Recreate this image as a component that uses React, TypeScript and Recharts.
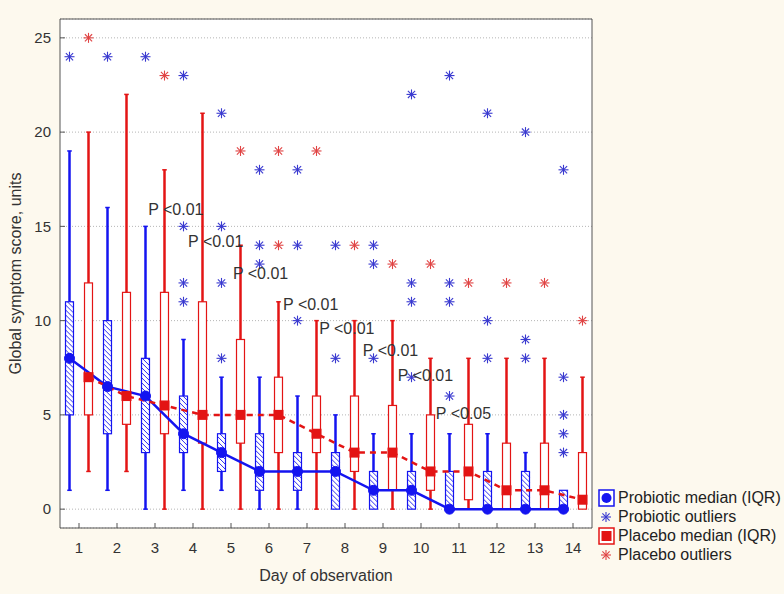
import React from "react";
import {
  ComposedChart,
  XAxis,
  YAxis,
  CartesianGrid,
  Line,
  Scatter,
  ReferenceArea,
  ReferenceLine,
  Legend,
} from "recharts";

const days = [1, 2, 3, 4, 5, 6, 7, 8, 9, 10, 11, 12, 13, 14];
const yTicks = [0, 5, 10, 15, 20, 25];

// probiotic group: whiskers, IQR box, median
const probMin = [1, 1, 0, 1, 1, 0, 0, 0, 0, 0, 0, 0, 0, 0];
const probQ1 = [5, 4, 3, 3, 2, 1, 1, 0, 0, 0, 0, 0, 0, 0];
const probMed = [8, 6.5, 6, 4, 3, 2, 2, 2, 1, 1, 0, 0, 0, 0];
const probQ3 = [11, 10, 8, 6, 4, 4, 3, 3, 2, 2, 2, 2, 2, 1];
const probMax = [19, 16, 15, 9, 7, 7, 6, 5, 4, 4, 4, 4, 3, 1];

// placebo group
const plMin = [2, 2, 0, 0, 0, 0, 0, 0, 0, 0, 0, 0, 0, 0];
const plQ1 = [5, 4.5, 4, 3.5, 3.5, 3, 3, 2, 1, 1, 0.5, 0, 0, 0];
const plMed = [7, 6, 5.5, 5, 5, 5, 4, 3, 3, 2, 2, 1, 1, 0.5];
const plQ3 = [12, 11.5, 11.5, 11, 9, 7, 6, 6, 5.5, 5, 4.5, 3.5, 3.5, 3];
const plMax = [20, 22, 18, 21, 14, 11, 10, 10, 10, 8, 8, 8, 8, 7];

// outliers as [day, value]
const probOutliers = [
  [1, 24], [2, 24], [3, 24],
  [4, 23], [4, 15], [4, 12], [4, 11],
  [5, 21], [5, 15], [5, 12], [5, 8],
  [6, 18], [6, 14], [6, 13],
  [7, 18], [7, 14], [7, 10],
  [8, 14], [8, 8],
  [9, 14], [9, 13], [9, 8],
  [10, 22], [10, 12], [10, 11], [10, 7],
  [11, 23], [11, 12], [11, 11], [11, 6],
  [12, 21], [12, 10], [12, 8],
  [13, 20], [13, 9], [13, 8],
  [14, 18], [14, 7], [14, 5], [14, 4], [14, 3],
];
const plOutliers = [
  [1, 25], [3, 23], [5, 19], [6, 19], [6, 14], [7, 19],
  [8, 14], [9, 13], [10, 13], [11, 12], [12, 12], [13, 12], [14, 10],
];

// p-value annotations
const pText = ["P <0.01", "P <0.01", "P <0.01", "P <0.01", "P <0.01", "P <0.01", "P <0.01", "P <0.05"];
const pX = [2.82, 3.87, 5.05, 6.37, 7.32, 8.47, 9.39, 10.39];
const pY = [15.9, 14.2, 12.5, 10.85, 9.6, 8.4, 7.1, 5.1];

const BLUE = "#1414f0";
const RED = "#e31414";
const BLUE_OUT = "#3a3ad0";
const RED_OUT = "#e04444";
const FONT = "'Liberation Sans', Arial, sans-serif";

const OFF = 0.25; // group offset from the day tick
const HALF = 0.105; // half box width
const CAP = 0.06;

const probLine = days.map((d, i) => ({ x: d - OFF, y: probMed[i] }));
const plLine = days.map((d, i) => ({ x: d + OFF, y: plMed[i] }));
const probOut = probOutliers.map(([d, v]) => ({ x: d - OFF, y: v }));
const plOut = plOutliers.map(([d, v]) => ({ x: d + OFF, y: v }));
const pLabels = pText.map((t, i) => ({ x: pX[i], y: pY[i], t }));

function asterisk(color: string) {
  return (props: any) => {
    const { cx, cy } = props;
    const r = 5;
    const d = r * 0.72;
    return (
      <g stroke={color} strokeWidth={1.1}>
        <line x1={cx - r} y1={cy} x2={cx + r} y2={cy} />
        <line x1={cx} y1={cy - r} x2={cx} y2={cy + r} />
        <line x1={cx - d} y1={cy - d} x2={cx + d} y2={cy + d} />
        <line x1={cx - d} y1={cy + d} x2={cx + d} y2={cy - d} />
      </g>
    );
  };
}

const squareDot = (props: any) => {
  const { cx, cy } = props;
  return <rect x={cx - 5} y={cy - 5} width={10} height={10} fill={RED} />;
};

const pLabel = (props: any) => (
  <text
    x={props.cx}
    y={props.cy}
    dominantBaseline="central"
    fontSize={16}
    fill="#333"
    fontFamily={FONT}
  >
    {props.payload.t}
  </text>
);

// hatched IQR box: white rect with "/" lines clipped to the rect
const hatchedBox = (props: any) => {
  const { x, y, width: w, height: h } = props;
  const step = 5;
  const lines: React.ReactNode[] = [];
  for (let k = step; k < w + h; k += step) {
    const u0 = Math.max(0, k - h);
    const u1 = Math.min(w, k);
    if (u1 <= u0) continue;
    lines.push(
      <line
        key={k}
        x1={x + u0}
        y1={y + h - (k - u0)}
        x2={x + u1}
        y2={y + h - (k - u1)}
      />
    );
  }
  return (
    <g>
      <rect x={x} y={y} width={w} height={h} fill="#fff" />
      <g stroke={BLUE} strokeWidth={0.9}>{lines}</g>
      <rect x={x} y={y} width={w} height={h} fill="none" stroke={BLUE} strokeWidth={1.2} />
    </g>
  );
};

const plainBox = (props: any) => {
  const { x, y, width: w, height: h } = props;
  return <rect x={x} y={y} width={w} height={h} fill="#fff" stroke={RED} strokeWidth={1.2} />;
};

function whiskers(
  key: string,
  off: number,
  lo: number[],
  q1: number[],
  q3: number[],
  hi: number[],
  color: string
) {
  const out: React.ReactNode[] = [];
  days.forEach((d, i) => {
    const x = d + off;
    if (q1[i] > lo[i]) {
      out.push(
        <ReferenceLine key={`${key}lo${i}`} segment={[{ x, y: lo[i] }, { x, y: q1[i] }]} stroke={color} strokeWidth={2.5} />
      );
      out.push(
        <ReferenceLine key={`${key}lc${i}`} segment={[{ x: x - CAP, y: lo[i] }, { x: x + CAP, y: lo[i] }]} stroke={color} strokeWidth={1.5} />
      );
    }
    if (hi[i] > q3[i]) {
      out.push(
        <ReferenceLine key={`${key}hi${i}`} segment={[{ x, y: q3[i] }, { x, y: hi[i] }]} stroke={color} strokeWidth={2.5} />
      );
      out.push(
        <ReferenceLine key={`${key}hc${i}`} segment={[{ x: x - CAP, y: hi[i] }, { x: x + CAP, y: hi[i] }]} stroke={color} strokeWidth={1.5} />
      );
    }
  });
  return out;
}

function boxes(key: string, off: number, q1: number[], q3: number[], shape: any) {
  return days.map((d, i) => (
    <ReferenceArea
      key={`${key}${i}`}
      x1={d + off - HALF}
      x2={d + off + HALF}
      y1={q1[i]}
      y2={q3[i]}
      shape={shape}
    />
  ));
}

const legendItems = [
  { label: "Probiotic median (IQR)", kind: "probBox" },
  { label: "Probiotic outliers", kind: "probOut" },
  { label: "Placebo median (IQR)", kind: "plBox" },
  { label: "Placebo outliers", kind: "plOut" },
];

function LegendIcon({ kind }: { kind: string }) {
  const star = (c: string) => asterisk(c)({ cx: 8, cy: 9 });
  return (
    <svg width={17} height={18} style={{ marginRight: 3 }}>
      {kind === "probBox" && (
        <g>
          <rect x={1} y={1} width={15} height={16} fill="#fff" stroke={BLUE} strokeWidth={1.5} />
          <circle cx={8.5} cy={9} r={5} fill={BLUE} />
        </g>
      )}
      {kind === "plBox" && (
        <g>
          <rect x={1} y={1} width={15} height={16} fill="#fff" stroke={RED} strokeWidth={1.5} />
          <rect x={3.5} y={4} width={10} height={10} fill={RED} />
        </g>
      )}
      {kind === "probOut" && star(BLUE_OUT)}
      {kind === "plOut" && star(RED_OUT)}
    </svg>
  );
}

const renderLegend = () => (
  <div style={{ fontFamily: FONT, fontSize: 16, color: "#222" }}>
    {legendItems.map((it) => (
      <div key={it.label} style={{ display: "flex", alignItems: "center", height: 19, whiteSpace: "nowrap" }}>
        <LegendIcon kind={it.kind} />
        <span>{it.label}</span>
      </div>
    ))}
  </div>
);

export default function App() {
  return (
    <div
      style={{
        position: "absolute",
        left: 0,
        top: 0,
        width: 784,
        height: 594,
        background: "#fdf9ee",
        fontFamily: FONT,
      }}
    >
      <ComposedChart
        width={784}
        height={594}
        margin={{ top: 18, right: 191, bottom: 0, left: 0 }}
        style={{ fontFamily: FONT }}
      >
        <CartesianGrid vertical={false} stroke="#b5b5b5" strokeDasharray="1 2" fill="#fff" />
        <XAxis
          type="number"
          dataKey="x"
          domain={[0.5, 14.5]}
          ticks={days}
          allowDataOverflow
          height={66}
          tickSize={-5}
          tickMargin={19}
          tick={{ fontSize: 15, fill: "#333" }}
          axisLine={{ stroke: "#555" }}
          tickLine={{ stroke: "#555" }}
          label={{
            value: "Day of observation",
            position: "insideBottom",
            offset: 13,
            style: { fontSize: 16, fill: "#333" },
          }}
        />
        <XAxis
          xAxisId="top"
          orientation="top"
          type="number"
          domain={[0.5, 14.5]}
          ticks={days}
          allowDataOverflow
          height={1}
          tickSize={-5}
          tick={false}
          axisLine={{ stroke: "#555" }}
          tickLine={{ stroke: "#555" }}
        />
        <YAxis
          type="number"
          domain={[-1, 26]}
          ticks={yTicks}
          allowDataOverflow
          width={60}
          tickSize={-5}
          tickMargin={14}
          tick={{ fontSize: 15, fill: "#333" }}
          axisLine={{ stroke: "#555" }}
          tickLine={{ stroke: "#555" }}
          label={{
            value: "Global symptom score, units",
            angle: -90,
            position: "insideLeft",
            offset: 15,
            style: { fontSize: 16, fill: "#333", textAnchor: "middle" },
          }}
        />
        <YAxis
          yAxisId="right"
          orientation="right"
          type="number"
          domain={[-1, 26]}
          ticks={yTicks}
          allowDataOverflow
          width={1}
          tickSize={-5}
          tick={false}
          axisLine={{ stroke: "#555" }}
          tickLine={{ stroke: "#555" }}
        />

        {whiskers("pw", -OFF, probMin, probQ1, probQ3, probMax, BLUE)}
        {whiskers("lw", OFF, plMin, plQ1, plQ3, plMax, RED)}
        {boxes("pb", -OFF, probQ1, probQ3, hatchedBox)}
        {boxes("lb", OFF, plQ1, plQ3, plainBox)}

        <Line
          data={probLine}
          dataKey="y"
          type="linear"
          stroke={BLUE}
          strokeWidth={2.5}
          dot={{ r: 5, fill: BLUE, stroke: BLUE, strokeWidth: 1 }}
          isAnimationActive={false}
        />
        <Line
          data={plLine}
          dataKey="y"
          type="linear"
          stroke={RED}
          strokeWidth={2.5}
          strokeDasharray="6 5"
          dot={squareDot}
          isAnimationActive={false}
        />
        <Scatter data={probOut} dataKey="y" shape={asterisk(BLUE_OUT)} isAnimationActive={false} />
        <Scatter data={plOut} dataKey="y" shape={asterisk(RED_OUT)} isAnimationActive={false} />
        <Scatter data={pLabels} dataKey="y" shape={pLabel} isAnimationActive={false} />

        <Legend
          layout="horizontal"
          verticalAlign="middle"
          align="center"
          content={renderLegend}
          wrapperStyle={{ left: 598, top: 488, width: 186 }}
        />
      </ComposedChart>
    </div>
  );
}
